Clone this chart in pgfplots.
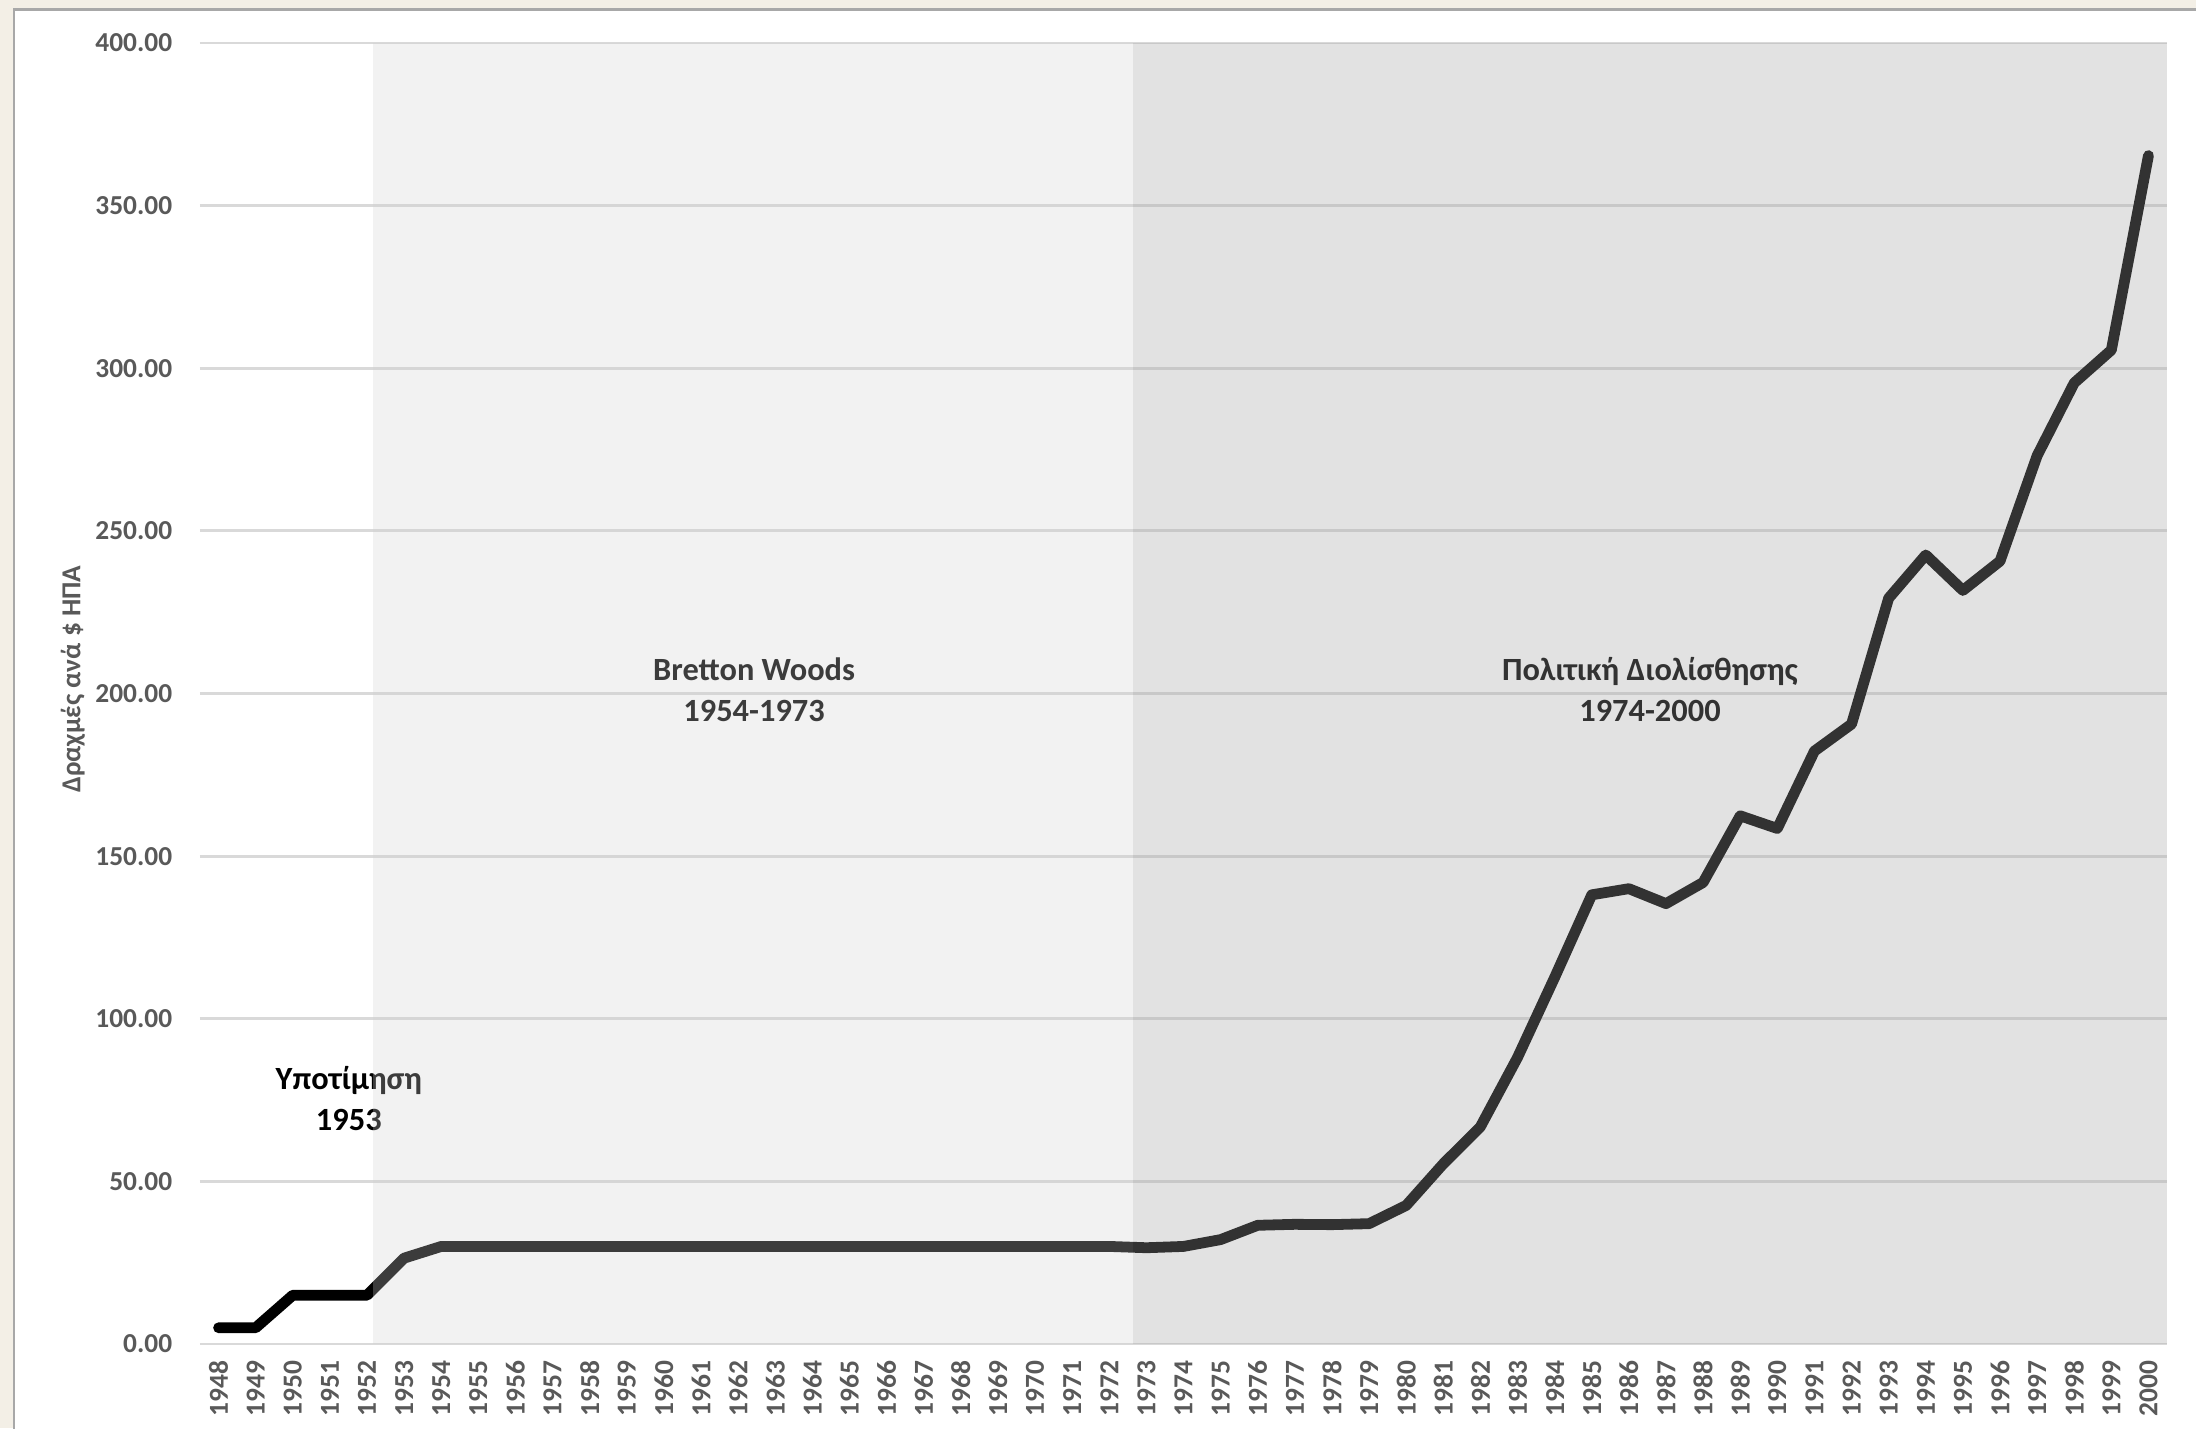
\documentclass[border=0pt]{standalone}
\usepackage{pgfplots}
\pgfplotsset{compat=1.18}
\usepackage{fontspec}
\setmainfont{Carlito}
\definecolor{tickgray}{HTML}{595959}
\definecolor{gridgray}{HTML}{D9D9D9}
\definecolor{bgbeige}{HTML}{F3EFE6}
\definecolor{panelborder}{HTML}{A8A8A8}
\definecolor{bandA}{RGB}{210,210,210}
\definecolor{bandB}{RGB}{164,164,164}
\newcommand\tickfont{\fontsize{6.85}{8.2}\selectfont\bfseries}
\newcommand\annfont{\fontsize{8.1}{10.7}\selectfont\bfseries}
\pgfplotstableread{
year value
1948 5.0
1949 5.0
1950 15.0
1951 15.0
1952 15.0
1953 26.4
1954 30.0
1955 30.0
1956 30.0
1957 30.0
1958 30.0
1959 30.0
1960 30.0
1961 30.0
1962 30.0
1963 30.0
1964 30.0
1965 30.0
1966 30.0
1967 30.0
1968 30.0
1969 30.0
1970 30.0
1971 30.0
1972 30.0
1973 29.6
1974 30.0
1975 32.1
1976 36.5
1977 36.8
1978 36.7
1979 37.0
1980 42.6
1981 55.4
1982 66.8
1983 88.1
1984 112.7
1985 138.1
1986 140.0
1987 135.4
1988 141.9
1989 162.4
1990 158.5
1991 182.3
1992 190.6
1993 229.3
1994 242.6
1995 231.7
1996 240.7
1997 273.1
1998 295.5
1999 305.6
2000 365.4
}\drachma
\begin{document}
\begin{tikzpicture}
\fill[bgbeige] (-50pt,-21pt) rectangle (499pt,336pt);
\path[use as bounding box] (-50pt,-21pt) rectangle (499pt,336pt);
\fill[white] (-46.5pt,-25pt) rectangle (505pt,333.6pt);
\draw[panelborder, line width=0.7pt] (-46.5pt,-25pt) -- (-46.5pt,333.6pt) -- (505pt,333.6pt);
\begin{axis}[
  at={(0,0)}, anchor=south west,
  scale only axis, width=491.75pt, height=325.25pt,
  xmin=1947.5, xmax=2000.5, ymin=0, ymax=400,
  clip=false,
  axis line style={draw=none},
  tick style={draw=none},
  ymajorgrids, grid style={gridgray, line width=0.7pt},
  ytick={0,50,100,150,200,250,300,350,400},
  xtick={1948,1949,1950,1951,1952,1953,1954,1955,1956,1957,1958,1959,1960,1961,1962,1963,1964,1965,1966,1967,1968,1969,1970,1971,1972,1973,1974,1975,1976,1977,1978,1979,1980,1981,1982,1983,1984,1985,1986,1987,1988,1989,1990,1991,1992,1993,1994,1995,1996,1997,1998,1999,2000},
  xticklabels={1948,1949,1950,1951,1952,1953,1954,1955,1956,1957,1958,1959,1960,1961,1962,1963,1964,1965,1966,1967,1968,1969,1970,1971,1972,1973,1974,1975,1976,1977,1978,1979,1980,1981,1982,1983,1984,1985,1986,1987,1988,1989,1990,1991,1992,1993,1994,1995,1996,1997,1998,1999,2000},
  /pgf/number format/assume math mode=true,
  ticklabel style={font=\tickfont, text=tickgray, inner sep=0pt},
  xticklabel style={rotate=90, anchor=east},
  xticklabel shift=4pt,
  yticklabel style={anchor=east, /pgf/number format/.cd, fixed, fixed zerofill, precision=2},
  yticklabel shift=6.75pt,
]
\addplot[black, line width=2.7pt, line cap=round, line join=round] table[x=year, y=value] {\drachma};
\node[font=\annfont, anchor=base] at (axis cs:1951.51,78.4) {Υποτίμηση};
\node[font=\annfont, anchor=base] at (axis cs:1951.51,65.8) {1953};
\node[font=\annfont, anchor=base] at (axis cs:1962.43,204.0) {Bretton Woods};
\node[font=\annfont, anchor=base] at (axis cs:1962.43,191.4) {1954-1973};
\node[font=\annfont, anchor=base] at (axis cs:1986.57,204.0) {Πολιτική Διολίσθησης};
\node[font=\annfont, anchor=base] at (axis cs:1986.57,191.4) {1974-2000};
\addplot[draw=none, fill=bandA, fill opacity=0.286] coordinates {(1952.16,400) (1972.64,400)} \closedcycle;
\addplot[draw=none, fill=bandB, fill opacity=0.31] coordinates {(1972.64,400) (2000.5,400)} \closedcycle;
\node[rotate=90, font=\tickfont, text=tickgray] at (rel axis cs:-0.0646,0.511) {Δραχμές ανά \$ ΗΠΑ};
\end{axis}
\end{tikzpicture}
\end{document}
